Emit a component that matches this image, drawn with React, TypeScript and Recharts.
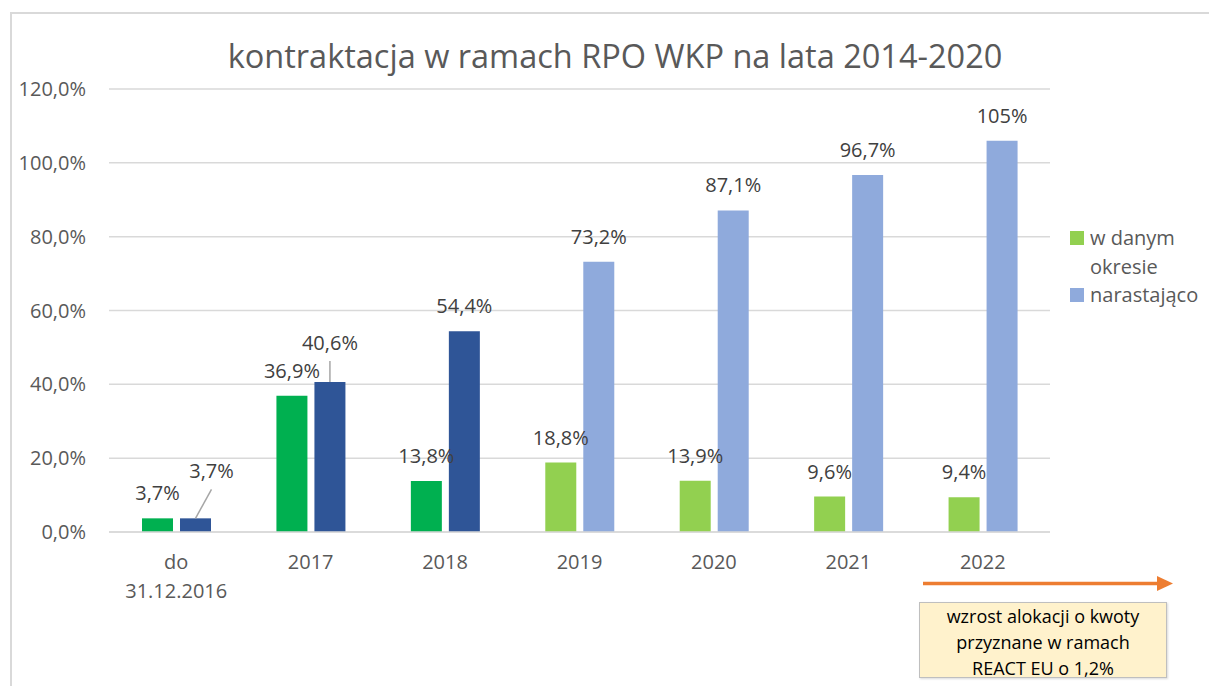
import { Bar, BarChart, CartesianGrid, Cell, LabelList, Legend, XAxis, YAxis } from 'recharts'

const categories = ['do 31.12.2016', '2017', '2018', '2019', '2020', '2021', '2022']
const periodValues = [3.7, 36.9, 13.8, 18.8, 13.9, 9.6, 9.4]
const cumulativeValues = [3.7, 40.6, 54.4, 73.2, 87.1, 96.7, 106]
const periodLabels = ['3,7%', '36,9%', '13,8%', '18,8%', '13,9%', '9,6%', '9,4%']
const cumulativeLabels = ['3,7%', '40,6%', '54,4%', '73,2%', '87,1%', '96,7%', '105%']
const seriesNames = ['w danym okresie', 'narastająco']
const yTicks = [0, 20, 40, 60, 80, 100, 120]
// first three periods are drawn in the darker shades
const darkCount = 3

const data = categories.map((category, i) => ({
  category,
  period: periodValues[i],
  cumulative: cumulativeValues[i],
}))

const FONT = '"Open Sans", sans-serif'
const TEXT = '#595959'

function CategoryTick({ x, y, payload }: any) {
  const lines = String(payload.value).split(' ')
  return (
    <text x={x} y={y} textAnchor="middle" fill={TEXT} fontSize={20} fontFamily={FONT}>
      {lines.map((line, i) => (
        <tspan key={i} x={x} dy={i === 0 ? 37 : 29}>
          {line}
        </tspan>
      ))}
    </text>
  )
}

// leader lines: label shifted by dx and lifted by rise above bar top
function makeLabel(texts: string[], leaders: Record<number, { dx: number; rise: number }>) {
  return (props: any) => {
    const { x, y, width, index } = props
    const cx = Number(x) + Number(width) / 2
    const top = Number(y)
    const lead = leaders[index]
    if (lead) {
      return (
        <g>
          <line x1={cx} y1={top} x2={cx + lead.dx} y2={top - lead.rise} stroke="#a6a6a6" strokeWidth={1.5} />
          <text x={cx + lead.dx} y={top - lead.rise - 11} textAnchor="middle" fill="#404040" fontSize={20} fontFamily={FONT}>
            {texts[index]}
          </text>
        </g>
      )
    }
    return (
      <text x={cx} y={top - 18} textAnchor="middle" fill="#404040" fontSize={20} fontFamily={FONT}>
        {texts[index]}
      </text>
    )
  }
}

function LegendContent({ payload }: any) {
  const items = [...(payload ?? [])].sort(
    (a: any, b: any) => seriesNames.indexOf(a.value) - seriesNames.indexOf(b.value),
  )
  return (
    <div style={{ fontFamily: FONT, fontSize: 20, color: TEXT, lineHeight: '28.5px' }}>
      {items.map((entry: any) => (
        <div key={entry.value} style={{ display: 'flex', alignItems: 'flex-start' }}>
          <span
            style={{
              display: 'inline-block',
              width: 14,
              height: 14,
              marginTop: 7,
              marginRight: 6,
              background: entry.color,
              flex: 'none',
            }}
          />
          <span style={{ width: 118 }}>{entry.value}</span>
        </div>
      ))}
    </div>
  )
}

export default function App() {
  return (
    <div
      style={{
        position: 'relative',
        width: 1209,
        height: 686,
        overflow: 'hidden',
        background: '#fff',
        fontFamily: FONT,
      }}
    >
      <style>{'body{margin:0}'}</style>
      <div
        style={{
          position: 'absolute',
          left: 10,
          top: 12,
          width: 1400,
          height: 900,
          border: '2px solid #d9d9d9',
        }}
      />
      <div
        style={{
          position: 'absolute',
          left: 115,
          top: 35,
          width: 1000,
          textAlign: 'center',
          fontSize: 32.5,
          lineHeight: '42px',
          color: TEXT,
        }}
      >
        kontraktacja w ramach RPO WKP na lata 2014-2020
      </div>
      <div style={{ position: 'absolute', left: 0, top: 0 }}>
        <BarChart
          width={1209}
          height={686}
          data={data}
          margin={{ top: 89, right: 159, left: 9, bottom: 94 }}
          barSize={31}
          barGap={7}
        >
          <CartesianGrid vertical={false} stroke="#d9d9d9" strokeWidth={1.5} />
          <XAxis
            dataKey="category"
            height={60}
            tick={<CategoryTick />}
            tickLine={false}
            tickSize={0}
            tickMargin={0}
            interval={0}
            axisLine={{ stroke: '#d9d9d9', strokeWidth: 1.5 }}
          />
          <YAxis
            domain={[0, 120]}
            ticks={yTicks}
            width={100}
            axisLine={false}
            tickLine={false}
            tickSize={0}
            tickMargin={23}
            tick={{ fontSize: 20, fill: TEXT, fontFamily: FONT }}
            tickFormatter={(v: number) => `${v.toFixed(1).replace('.', ',')}%`}
          />
          <Legend
            layout="vertical"
            align="center"
            verticalAlign="middle"
            content={<LegendContent />}
            wrapperStyle={{ left: 1070, top: 224, width: 140 }}
          />
          <Bar dataKey="period" name={seriesNames[0]} fill="#92D050" isAnimationActive={false}>
            {data.map((_, i) => (
              <Cell key={i} fill={i < darkCount ? '#00B050' : '#92D050'} />
            ))}
            <LabelList dataKey="period" content={makeLabel(periodLabels, {})} />
          </Bar>
          <Bar dataKey="cumulative" name={seriesNames[1]} fill="#8FAADC" isAnimationActive={false}>
            {data.map((_, i) => (
              <Cell key={i} fill={i < darkCount ? '#2F5597' : '#8FAADC'} />
            ))}
            <LabelList
              dataKey="cumulative"
              content={makeLabel(cumulativeLabels, { 0: { dx: 16, rise: 29 }, 1: { dx: 0, rise: 21 } })}
            />
          </Bar>
        </BarChart>
      </div>
      <svg style={{ position: 'absolute', left: 0, top: 0 }} width={1209} height={686}>
        <line x1={923} y1={583.5} x2={1160} y2={583.5} stroke="#ED7D31" strokeWidth={3.5} />
        <polygon points="1157,576 1173,583.5 1157,591" fill="#ED7D31" />
      </svg>
      <div
        style={{
          position: 'absolute',
          left: 919,
          top: 602,
          width: 246,
          height: 74,
          background: '#FFF2CC',
          border: '1px solid #BFBFBF',
          boxShadow: '1px 1px 2px rgba(0,0,0,0.15)',
          textAlign: 'center',
          fontSize: 18,
          lineHeight: '26px',
          color: '#000',
        }}
      >
        wzrost alokacji o kwoty
        <br />
        przyznane w ramach
        <br />
        REACT EU o 1,2%
      </div>
    </div>
  )
}
